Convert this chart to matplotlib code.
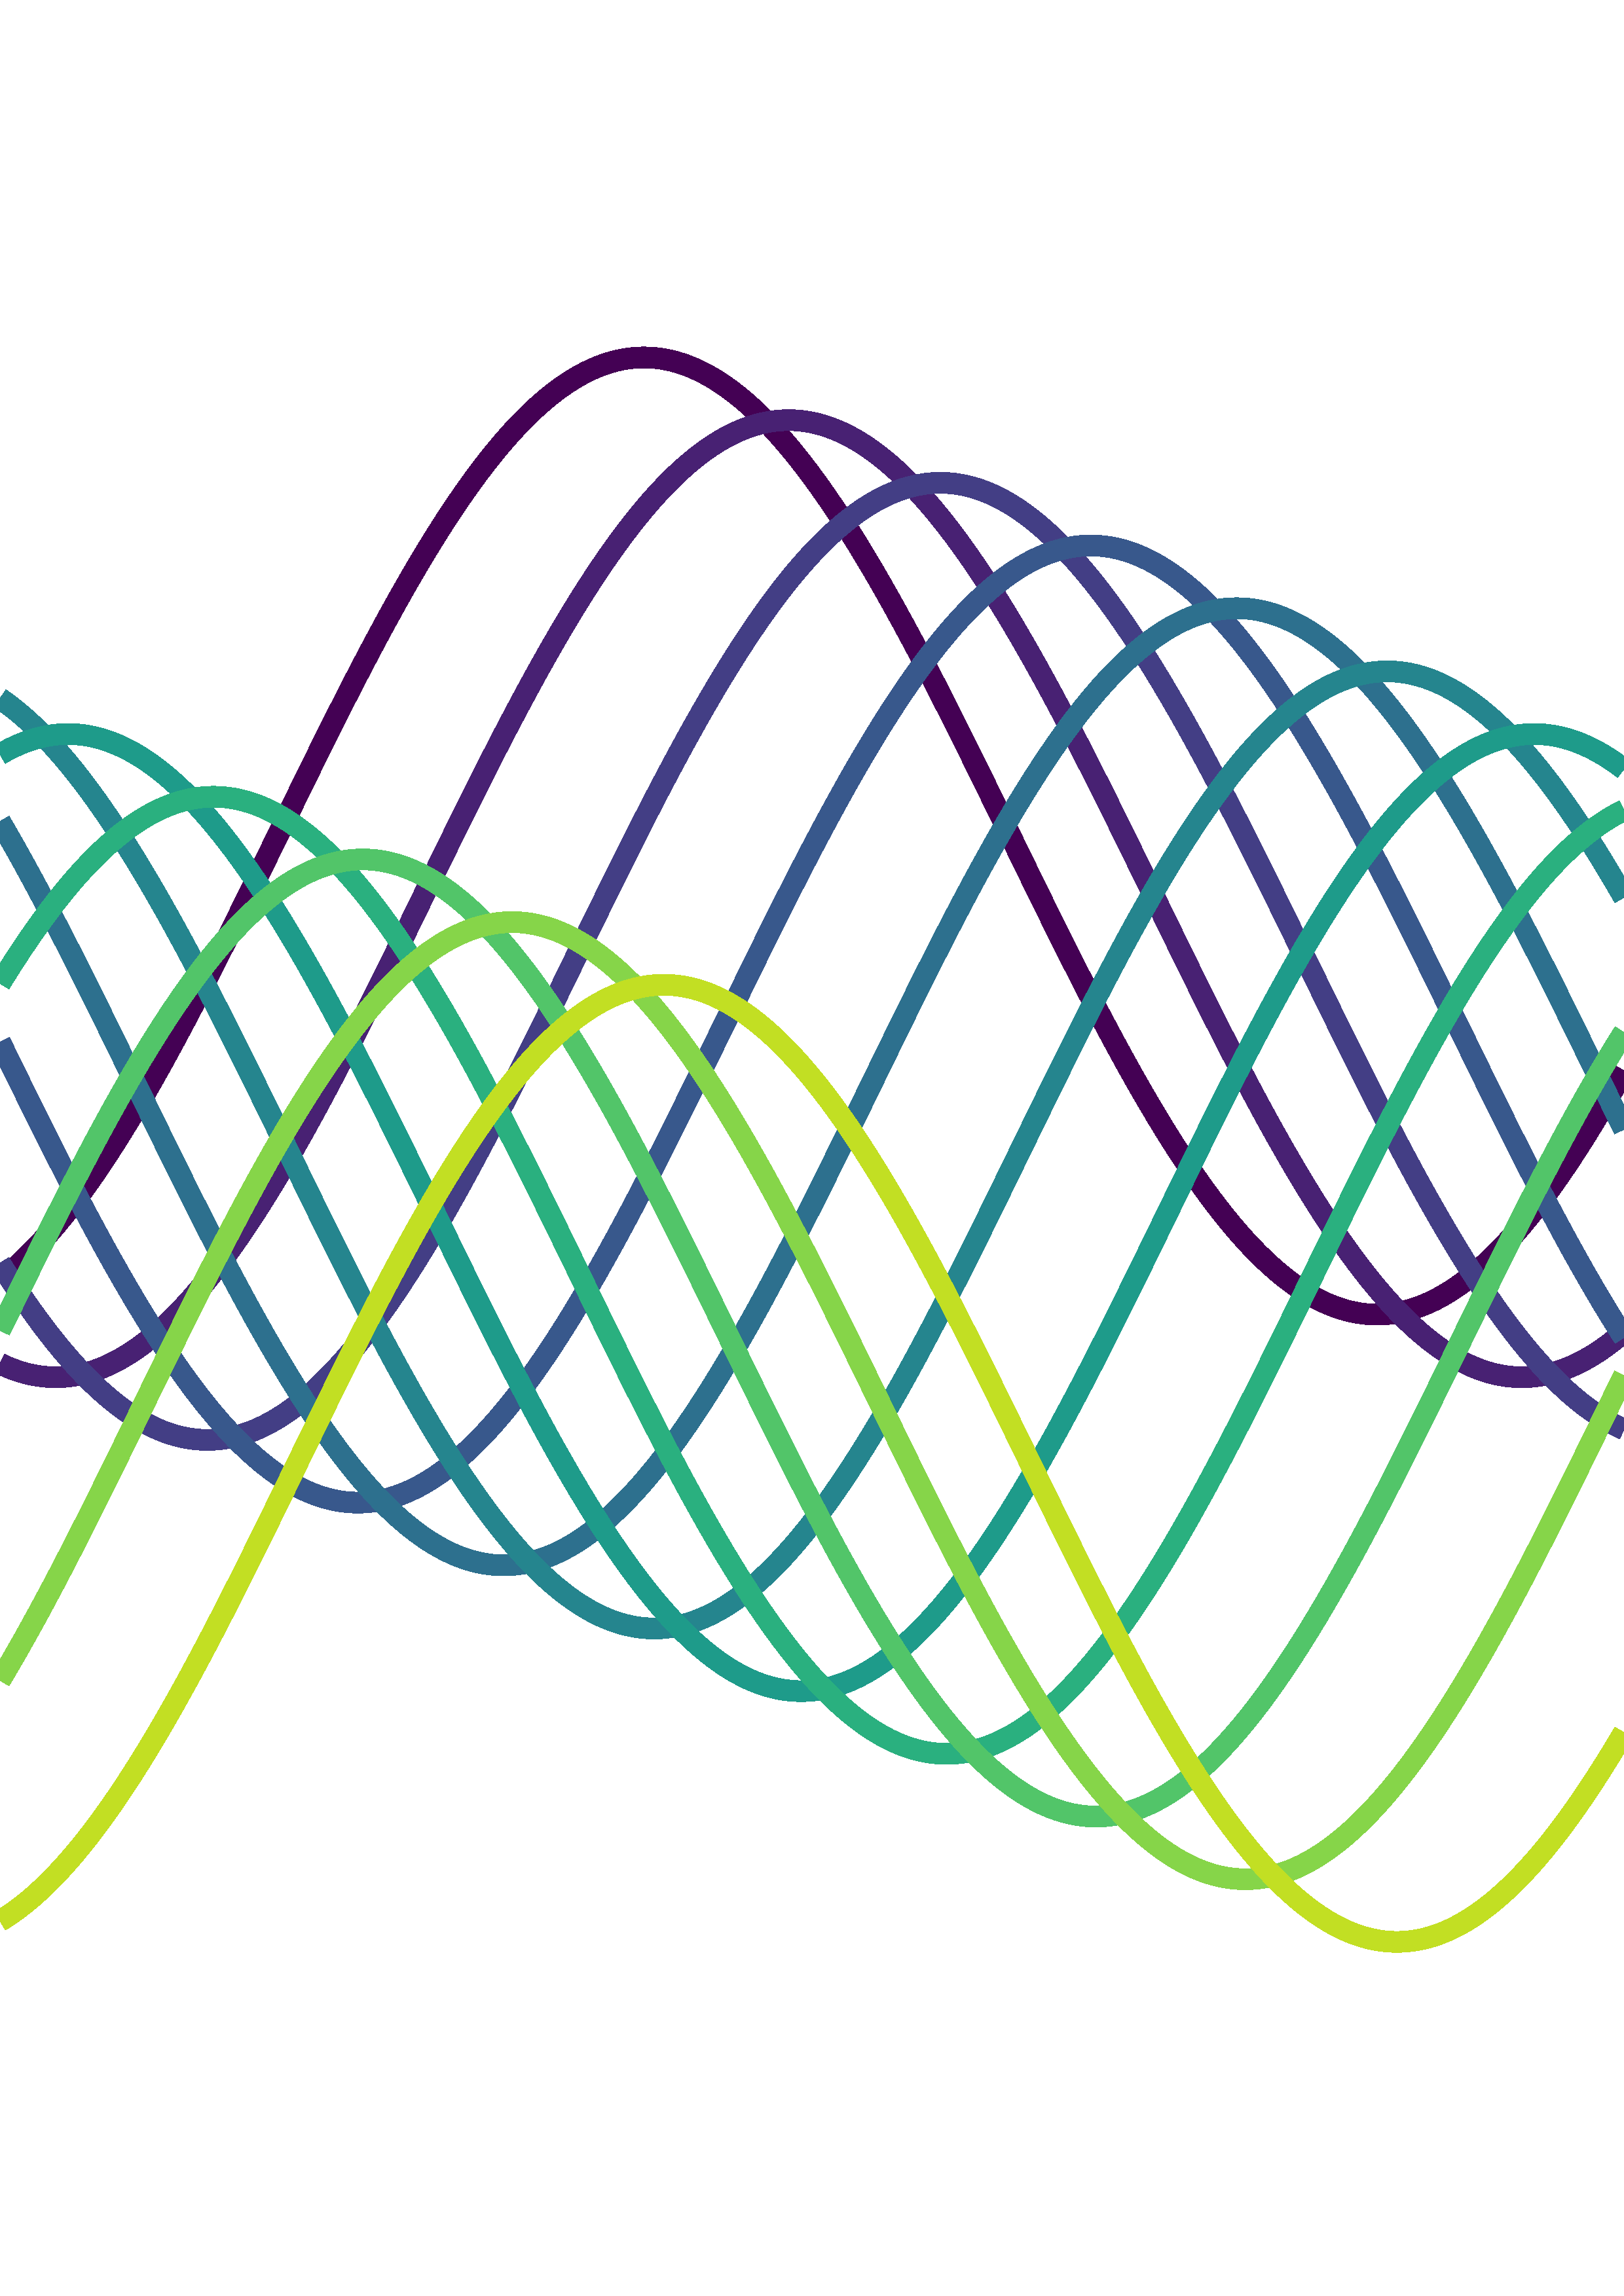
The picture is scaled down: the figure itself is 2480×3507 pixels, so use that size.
import numpy as np
import matplotlib
matplotlib.use('Agg')
import matplotlib.pyplot as plt
from matplotlib.collections import LineCollection

# crest position (x) and vertical offset of each wave
peak_x = [2.76, 3.38, 4.03, 4.675, 5.30, 5.945, 6.575, 0.915, 1.555, 2.195, 2.845]
baseline = [0.0, -0.131, -0.262, -0.393, -0.524, -0.656, -0.787,
            -0.918, -1.049, -1.180, -1.311]
amplitude = 1.0
x_max = 6.96
n_points = 1000

x = np.linspace(0, x_max, n_points)
cmap = plt.cm.viridis

fig = plt.figure(figsize=(2480 / 300, 3507 / 300), dpi=300)
ax = fig.add_axes([0, 0, 1, 1])

for i, (px, base) in enumerate(zip(peak_x, baseline)):
    y = base + amplitude * np.cos(x - px)
    pts = np.column_stack([x, y]).reshape(-1, 1, 2)
    segs = np.concatenate([pts[:-1], pts[1:]], axis=1)
    lc = LineCollection(segs, colors=[cmap(i / len(peak_x))], linewidths=7.7,
                        antialiased=False, capstyle='butt')
    ax.add_collection(lc)

ax.set_xlim(0, x_max)
ax.set_ylim(-3.051, 1.747)
ax.axis('off')

fig.savefig('out.png', dpi=300)
